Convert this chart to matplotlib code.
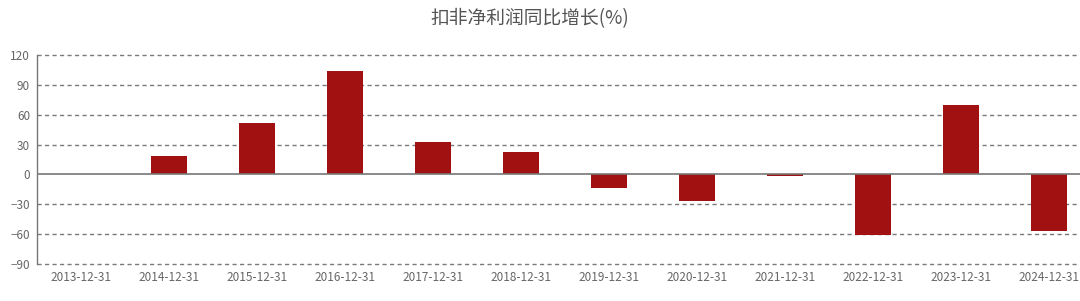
import matplotlib
matplotlib.use("Agg")
import matplotlib.pyplot as plt
import numpy as np

plt.rcParams['font.family'] = ['Noto Sans CJK SC', 'DejaVu Sans']

# data
dates = ["2013-12-31", "2014-12-31", "2015-12-31", "2016-12-31", "2017-12-31", "2018-12-31",
         "2019-12-31", "2020-12-31", "2021-12-31", "2022-12-31", "2023-12-31", "2024-12-31"]
growth = [0, 19, 52, 103.5, 33, 23, -14, -27, -2, -61, 69.5, -56.5]
yticks = [-90, -60, -30, 0, 30, 60, 90, 120]
title = "扣非净利润同比增长(%)"

bar_color = "#a11111"
grid_color = "#7a7a7a"
text_color = "#666666"

fig = plt.figure(figsize=(10.8, 3.01), dpi=100)
# axes runs a bit past the right edge, as in the reference
ax = fig.add_axes([37 / 1080, 37 / 301, 1056 / 1080, 209 / 301])

x = np.arange(len(dates))
ax.bar(x, growth, width=0.42, color=bar_color, zorder=3)

ax.set_xlim(-0.5, len(dates) - 0.5)
ax.set_ylim(-90, 120)
ax.set_yticks(yticks)
ax.set_xticks(x)
ax.set_xticklabels(dates)

for t in yticks:
    if t == 0:
        ax.axhline(t, color="#777777", lw=1.2, zorder=4)
    else:
        ax.axhline(t, color=grid_color, lw=1.0, ls=(0, (3, 2.4)), zorder=1, clip_on=False)

for s in ["top", "right", "bottom"]:
    ax.spines[s].set_visible(False)
ax.spines["left"].set_color("#777777")
ax.spines["left"].set_linewidth(1.0)

ax.tick_params(axis="both", length=0, labelsize=8.5, labelcolor=text_color)
ax.tick_params(axis="y", pad=5)
ax.tick_params(axis="x", pad=5)

fig.text(530 / 1080, 1 - 19 / 301, title, ha="center", va="center",
         fontsize=13.5, color="#555555")

fig.savefig("out.png", dpi=100)
